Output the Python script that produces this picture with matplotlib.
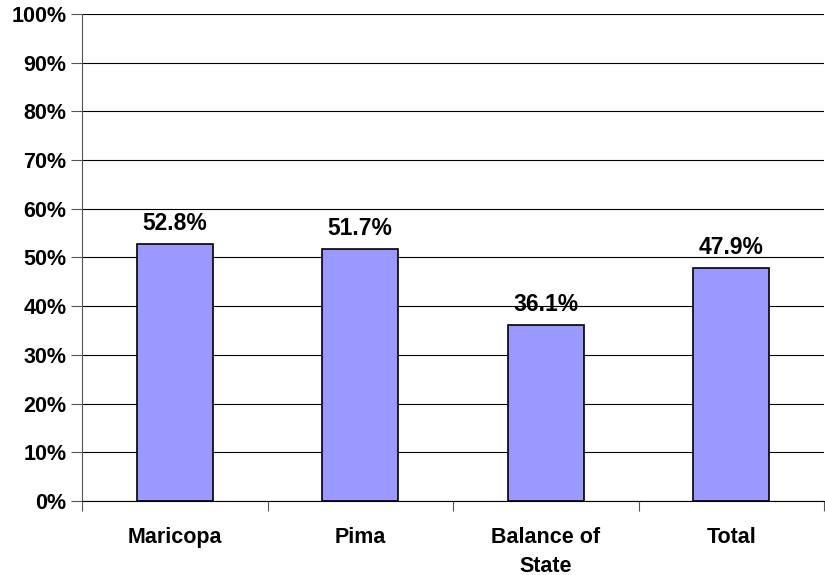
import matplotlib
matplotlib.use("Agg")
import matplotlib.pyplot as plt
from matplotlib.ticker import FixedLocator

categories = ["Maricopa", "Pima", "Balance of\nState", "Total"]
values = [52.8, 51.7, 36.1, 47.9]
value_labels = ["52.8%", "51.7%", "36.1%", "47.9%"]
yticks = [0, 10, 20, 30, 40, 50, 60, 70, 80, 90, 100]

plt.rcParams["font.family"] = ["Liberation Sans", "DejaVu Sans"]
plt.rcParams["font.weight"] = "bold"

fig = plt.figure(figsize=(8.25, 5.75), dpi=100)
ax = fig.add_axes([0.0994, 0.1287, 0.8994, 0.847])

x = list(range(len(categories)))
ax.bar(x, values, width=0.41, color="#9999FF", edgecolor="black", linewidth=1.2, zorder=3)

# value labels above each bar
for xi, v, lab in zip(x, values, value_labels):
    ax.text(xi, v + 2.9, lab, ha="center", va="baseline", fontsize=16.5, fontweight="bold")

ax.set_xlim(-0.5, len(categories) - 0.5)
ax.set_ylim(0, 100)
ax.set_yticks(yticks)
ax.set_yticklabels([f"{t}%" for t in yticks], fontsize=15.5, fontweight="bold")
ax.yaxis.grid(True, color="black", linewidth=0.8, zorder=0)

ax.set_xticks(x)
ax.set_xticklabels(categories, fontsize=15.5, fontweight="bold", linespacing=1.45)
ax.tick_params(axis="x", length=0, pad=19)
ax.xaxis.set_minor_locator(FixedLocator([-0.5, 0.5, 1.5, 2.5, 3.5]))
ax.tick_params(axis="x", which="minor", length=7, color="#555555", width=0.8)
ax.tick_params(axis="y", length=8, color="#555555", width=0.8, pad=3)

for side in ["top", "right"]:
    ax.spines[side].set_visible(False)
ax.spines["left"].set_color("#555555")
ax.spines["bottom"].set_color("black")

fig.savefig("out.png", dpi=100)
